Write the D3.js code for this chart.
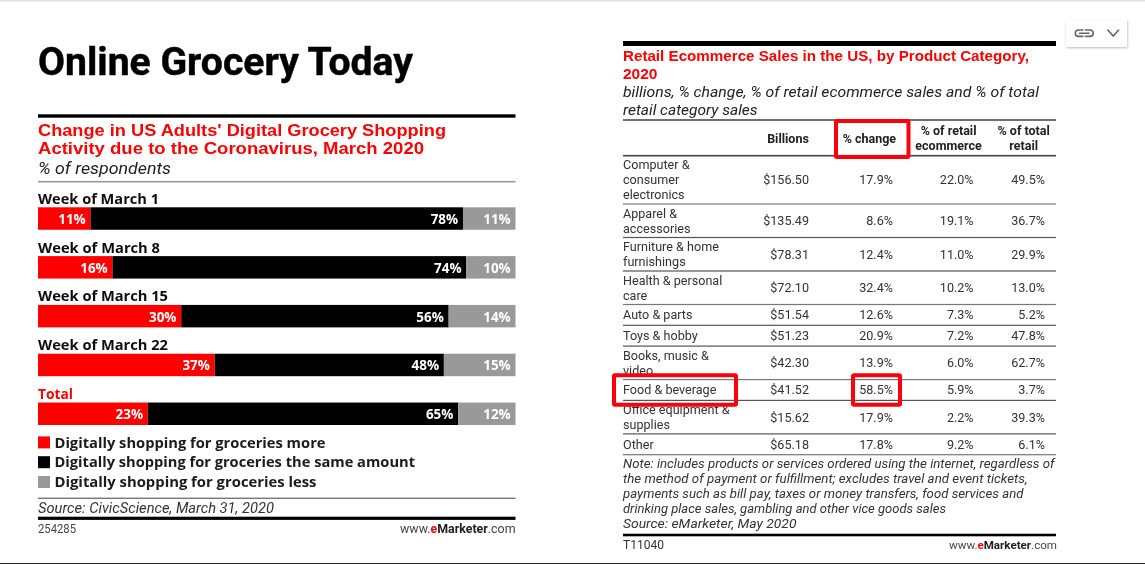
<!DOCTYPE html>
<html><head><meta charset="utf-8">
<script src="https://cdn.jsdelivr.net/npm/d3@7"></script>
<style>html,body{margin:0;padding:0;background:#fff;overflow:hidden}svg{display:block}</style>
</head><body><div id="chart"></div>
<script>
// ---- data ----
const pageTitle = "Online Grocery Today";
const weeks = ["Week of March 1","Week of March 8","Week of March 15","Week of March 22","Total"];
const shopMore = [11,15.6,30,37,23];
const shopSame = [78,74.1,56,48,65];
const shopLess = [11,10.3,14,15,12];
const legendLabels = ["Digitally shopping for groceries more","Digitally shopping for groceries the same amount","Digitally shopping for groceries less"];
const leftTitle = ["Change in US Adults' Digital Grocery Shopping","Activity due to the Coronavirus, March 2020"];
const rightTitle = ["Retail Ecommerce Sales in the US, by Product Category,","2020"];
const rightSub = ["billions, % change, % of retail ecommerce sales and % of total","retail category sales"];
const categories = [["Computer &","consumer","electronics"],["Apparel &","accessories"],["Furniture & home","furnishings"],["Health & personal","care"],["Auto & parts"],["Toys & hobby"],["Books, music &","video"],["Food & beverage"],["Office equipment &","supplies"],["Other"]];
const billions = [156.50,135.49,78.31,72.10,51.54,51.23,42.30,41.52,15.62,65.18];
const pctChange = [17.9,8.6,12.4,32.4,12.6,20.9,13.9,58.5,17.9,17.8];
const pctEcommerce = [22.0,19.1,11.0,10.2,7.3,7.2,6.0,5.9,2.2,9.2];
const pctTotalRetail = [49.5,36.7,29.9,13.0,5.2,47.8,62.7,3.7,39.3,6.1];
const noteLines = ["Note: includes products or services ordered using the internet, regardless of","the method of payment or fulfillment; excludes travel and event tickets,","payments such as bill pay, taxes or money transfers, food services and","drinking place sales, gambling and other vice goods sales","Source: eMarketer, May 2020"];

// ---- page ----
const RED="#fe0000", GREY="#999999", INK="#222";
const UI="'Open Sans',sans-serif", BODY="Roboto,sans-serif", HEAD="'Liberation Sans',sans-serif";
const svg=d3.select("#chart").append("svg").attr("width",1145).attr("height",564);
const defs=svg.append("defs");
const blur=defs.append("filter").attr("id","soft").attr("x","-2%").attr("y","-2%").attr("width","104%").attr("height","104%");
blur.append("feGaussianBlur").attr("stdDeviation",0.35);
const shadow=defs.append("filter").attr("id","sh").attr("x","-20%").attr("y","-20%").attr("width","140%").attr("height","140%");
shadow.append("feDropShadow").attr("dx",0.5).attr("dy",1).attr("stdDeviation",1.2).attr("flood-color","#000").attr("flood-opacity",0.28);

svg.append("rect").attr("x",0).attr("y",0).attr("width",1145).attr("height",1.6).attr("fill","#e2e2e2");
svg.append("rect").attr("x",0).attr("y",563).attr("width",1145).attr("height",1).attr("fill","#222");

const g=svg.append("g").attr("filter","url(#soft)");
function txt(p,x,y,s,o={}){
  const t=p.append("text").attr("x",x).attr("y",y).text(s)
    .attr("font-family",o.font||UI).attr("font-size",o.size||13)
    .attr("font-weight",o.weight||400).attr("font-style",o.style||"normal")
    .attr("fill",o.fill||INK).attr("text-anchor",o.anchor||"start");
  if(o.w) t.attr("textLength",o.w).attr("lengthAdjust","spacingAndGlyphs");
  return t;
}
// one paragraph = one text element with a tspan per line
function para(p,x,y,lines,lh,o={}){
  const t=p.append("text").attr("font-family",o.font||UI).attr("font-size",o.size||13)
    .attr("font-weight",o.weight||400).attr("font-style",o.style||"normal")
    .attr("fill",o.fill||INK).attr("text-anchor",o.anchor||"start");
  lines.forEach((s,i)=>{
    const ts=t.append("tspan").attr("x",x).attr("y",y+i*lh).text(s);
    if(o.w) ts.attr("textLength",o.w[i]).attr("lengthAdjust","spacingAndGlyphs");
  });
  return t;
}
function rule(p,x1,x2,y,h,c){p.append("rect").attr("x",x1).attr("y",y-h/2).attr("width",x2-x1).attr("height",h).attr("fill",c);}
function brand(p,xr,y,size){
  const t=p.append("text").attr("x",xr).attr("y",y).attr("text-anchor","end").attr("font-family",BODY).attr("font-size",size).attr("fill","#444");
  t.append("tspan").text("www.");
  t.append("tspan").text("e").attr("fill",RED).attr("font-weight",700);
  t.append("tspan").text("Marketer").attr("font-weight",700).attr("fill","#222");
  t.append("tspan").text(".com");
}

// ---- left panel ----
txt(g,38,75,pageTitle,{font:"Roboto,sans-serif",size:38,weight:700,fill:"#000",w:375}).attr("stroke","#000").attr("stroke-width",0.45);
const L=38,R=515.5;
rule(g,L,R,116,3.4,"#000");
para(g,L,135.7,leftTitle,18.4,{font:HEAD,size:16,weight:700,fill:RED,w:[408,386]});
txt(g,L,174,"% of respondents",{size:17,style:"italic",w:133,fill:"#222",font:BODY});
rule(g,L,R,181.7,1.6,"#999");

const x=d3.scaleLinear().domain([0,100]).range([L,R]);
const y=d3.scaleBand().domain(weeks).range([207.3,425]).paddingInner(0.54).paddingOuter(0);
const seriesData=[{k:"more",v:shopMore,c:RED},{k:"same",v:shopSame,c:"#000"},{k:"less",v:shopLess,c:GREY}];
const labelW=[121,122,130,130,35];
weeks.forEach((w,i)=>{
  txt(g,L,y(w)-3.6,w,{size:14.5,weight:700,fill:i===4?RED:"#111",w:labelW[i]});
  let acc=0;
  seriesData.forEach(s=>{
    const v=s.v[i];
    g.append("rect").attr("x",x(acc)).attr("y",y(w)).attr("width",x(acc+v)-x(acc)).attr("height",y.bandwidth()).attr("fill",s.c);
    acc+=v;
    txt(g,x(acc)-4.8,y(w)+16.6,Math.round(v)+"%",{size:14,weight:700,fill:"#fff",anchor:"end",w:27.5});
  });
});
const legY=d3.scalePoint().domain(legendLabels).range([442.4,482]);
const legW=[271,360.5,262];
legendLabels.forEach((s,i)=>{
  g.append("rect").attr("x",L).attr("y",legY(s)-6).attr("width",12).attr("height",12).attr("fill",seriesData[i].c);
  txt(g,54.5,legY(s)+5.2,s,{size:15,weight:700,fill:"#1a1a1a",w:legW[i]});
});
rule(g,L,R,498.3,1.4,"#777");
txt(g,L,512.7,"Source: CivicScience, March 31, 2020",{size:15,style:"italic",w:236,fill:"#333",font:BODY});
rule(g,L,R,518.3,3.2,"#000");
txt(g,L,533.3,"254285",{size:12,fill:"#444",w:38,font:BODY});
brand(g,515.5,533.3,12.4);

// ---- right panel ----
const TL=623,TR=1056;
rule(g,TL,TR,43.5,5,"#000");
para(g,TL,61,rightTitle,17.7,{font:HEAD,size:15.4,weight:700,fill:RED,w:[406,34.5]});
para(g,TL,97,rightSub,18,{size:15.3,style:"italic",w:[416,134.5],fill:"#222",font:BODY});
rule(g,TL,TR,120,1.4,"#333");
rule(g,TL,TR,155.7,1.6,"#444");

const heads=[{l:["Billions"],c:788},{l:["% change"],c:869.4},{l:["% of retail","ecommerce"],c:948.6},{l:["% of total","retail"],c:1023.7}];
heads.forEach(h=>para(g,h.c,h.l.length===1?142.8:135,h.l,15,{size:12.5,weight:700,anchor:"middle",fill:"#222",font:BODY}));

const heightByLines={1:20.8,2:33.5,3:48.3};
const rowH=categories.map(c=>heightByLines[c.length]);
const rowBottom=Array.from(d3.cumsum(rowH),v=>155.7+v);
const LH=14.8;
const cols=[
 {v:billions,xr:809,f:d3.format("$.2f")},
 {v:pctChange,xr:893,f:d=>d.toFixed(1)+"%"},
 {v:pctEcommerce,xr:973.6,f:d=>d.toFixed(1)+"%"},
 {v:pctTotalRetail,xr:1045,f:d=>d.toFixed(1)+"%"}];
categories.forEach((c,i)=>{
  const bottom=rowBottom[i], mid=bottom-rowH[i]/2;
  para(g,TL,mid+4.4-(c.length-1)/2*LH,c,LH,{size:12.6,fill:"#333",font:BODY});
  cols.forEach(k=>txt(g,k.xr,mid+4.4,k.f(k.v[i]),{size:12.6,fill:"#333",anchor:"end",font:BODY}));
  rule(g,TL,TR,bottom,1.2,i%3===0?"#777":"#555");
});
para(g,TL,468,noteLines,15,{size:12.7,style:"italic",fill:"#333",font:BODY,w:[431.5,404.5,400.5,323,173.5]});
rule(g,TL,TR,535,2.6,"#000");
txt(g,TL,549,"T11040",{size:12.5,fill:"#333",w:41,font:BODY});
brand(g,1057,549,11.6);

// highlight boxes from table rows / columns
const foodRow=categories.findIndex(c=>c[0]==="Food & beverage");
const hl=svg.append("g").attr("fill","none").attr("stroke","#fb0007").attr("stroke-width",4).attr("filter","url(#soft)");
const boxY0=rowBottom[foodRow]-rowH[foodRow]-4.4, boxH=rowH[foodRow]+8.8;
hl.append("rect").attr("x",836).attr("y",121).attr("width",72.5).attr("height",36).attr("rx",1);
hl.append("rect").attr("x",614).attr("y",boxY0).attr("width",122).attr("height",boxH).attr("rx",1);
hl.append("rect").attr("x",853).attr("y",boxY0).attr("width",47).attr("height",boxH).attr("rx",1);

// widget
const wd=svg.append("g");
wd.append("rect").attr("x",1066).attr("y",20).attr("width",61).attr("height",27).attr("fill","#fff").attr("filter","url(#sh)");
const ic=wd.append("g").attr("fill","none").attr("stroke","#666").attr("stroke-width",1.6).attr("stroke-linecap","round");
ic.append("path").attr("d","M1083 30h-4.5a3.2 3.2 0 0 0 0 6.4h4.5M1085.5 30h4.5a3.2 3.2 0 0 1 0 6.4h-4.5M1079.5 33.2h9.5");
ic.append("path").attr("d","M1107.8 30l5.4 6 5.4-6");
</script></body></html>
